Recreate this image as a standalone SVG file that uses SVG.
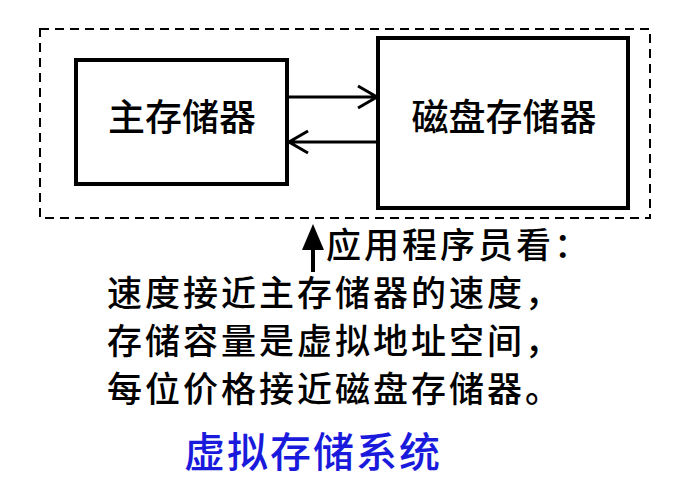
<svg xmlns="http://www.w3.org/2000/svg" width="688" height="498" viewBox="0 0 688 498">
<style>
.box{fill:#fff;stroke:#000;stroke-width:4}
.t{font-family:"Noto Sans CJK SC",sans-serif;fill:#000;font-weight:500}
.c{stroke:#000;stroke-width:3;fill:none}
</style>
<rect x="0" y="0" width="688" height="498" fill="#fff"/>
<rect x="40" y="29" width="610" height="189" fill="none" stroke="#000" stroke-width="2" stroke-dasharray="9,6"/>
<g id="main"><rect class="box" x="76" y="60" width="211" height="124"/><text class="t" x="182" y="131" font-size="37" text-anchor="middle">主存储器</text></g>
<g id="disk"><rect class="box" x="378" y="38" width="250" height="170"/><text class="t" x="504" y="131" font-size="37" text-anchor="middle">磁盘存储器</text></g>
<g id="connectors">
<path class="c" d="M289 97H376M358 86L377 97L358 108"/>
<path class="c" d="M376 142H289M308 131L289 142L308 153"/>
<path d="M313 272V245" stroke="#000" stroke-width="4"/>
<polygon points="313,224 302,250 324,250" fill="#000"/>
</g>
<g id="text">
<text class="t" x="326" y="258" font-size="35" letter-spacing="3">应用程序员看：</text>
<text class="t" x="107" y="306" font-size="35" letter-spacing="3">速度接近主存储器的速度，</text>
<text class="t" x="107" y="354" font-size="35" letter-spacing="3">存储容量是虚拟地址空间，</text>
<text class="t" x="107" y="402" font-size="35" letter-spacing="3">每位价格接近磁盘存储器。</text>
<text x="184" y="467" font-size="41" font-weight="500" letter-spacing="2" font-family="Noto Sans CJK SC,sans-serif" fill="#1a1adc">虚拟存储系统</text>
</g>
</svg>
